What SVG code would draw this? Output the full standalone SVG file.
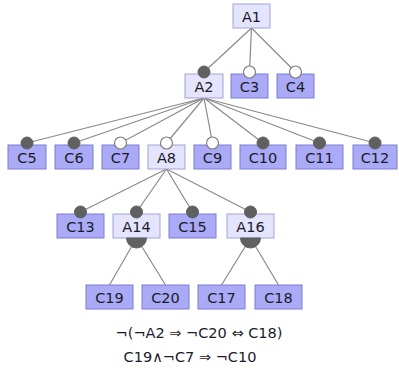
<svg xmlns="http://www.w3.org/2000/svg" width="399" height="370" viewBox="0 0 399 370">
<style>
.c{fill:#aaaaf6;stroke:#7c7cd4;stroke-width:1}
.a{fill:#e4e4fc;stroke:#a4a4d8;stroke-width:1}
.t{font-family:"DejaVu Sans",Verdana,sans-serif;font-size:14.5px;fill:#1a1a2a;text-anchor:middle}
.l{stroke:#8a8a8a;stroke-width:1.2;fill:none}
.m{fill:#606060;stroke:#606060;stroke-width:1}
.o{fill:#fff;stroke:#808080;stroke-width:1.2}
.f{font-family:"DejaVu Sans",Verdana,sans-serif;font-size:14.5px;fill:#1a1a2a;text-anchor:middle}
</style>
<rect width="399" height="370" fill="#fff"/>
<g id="connectors">
<line class="l" x1="251.5" y1="28" x2="204" y2="72"/>
<line class="l" x1="251.5" y1="28" x2="249.5" y2="72"/>
<line class="l" x1="251.5" y1="28" x2="295.5" y2="72"/>
<line class="l" x1="204" y1="98" x2="27" y2="143"/>
<line class="l" x1="204" y1="98" x2="74" y2="143"/>
<line class="l" x1="204" y1="98" x2="120.5" y2="143"/>
<line class="l" x1="204" y1="98" x2="166.5" y2="143"/>
<line class="l" x1="204" y1="98" x2="212.5" y2="143"/>
<line class="l" x1="204" y1="98" x2="263" y2="143"/>
<line class="l" x1="204" y1="98" x2="319.5" y2="143"/>
<line class="l" x1="204" y1="98" x2="375" y2="143"/>
<line class="l" x1="166.5" y1="169" x2="80.5" y2="212"/>
<line class="l" x1="166.5" y1="169" x2="136.5" y2="212"/>
<line class="l" x1="166.5" y1="169" x2="192.5" y2="212"/>
<line class="l" x1="166.5" y1="169" x2="250.5" y2="212"/>
<line class="l" x1="136.5" y1="238" x2="109.5" y2="285"/>
<line class="l" x1="136.5" y1="238" x2="165.5" y2="285"/>
<line class="l" x1="250.5" y1="238" x2="221.5" y2="285"/>
<line class="l" x1="250.5" y1="238" x2="278.5" y2="285"/>
</g>
<g id="A1"><rect class="a" x="233" y="4" width="37" height="24"/><text class="t" x="251.5" y="21.5">A1</text></g>
<g id="A2"><rect class="a" x="185" y="74" width="38" height="24"/><text class="t" x="204" y="91.5">A2</text><circle class="m" cx="204" cy="72" r="6"/></g>
<g id="C3"><rect class="c" x="231" y="74" width="37" height="24"/><text class="t" x="249.5" y="91.5">C3</text><circle class="o" cx="249.5" cy="72" r="6"/></g>
<g id="C4"><rect class="c" x="277" y="74" width="37" height="24"/><text class="t" x="295.5" y="91.5">C4</text><circle class="o" cx="295.5" cy="72" r="6"/></g>
<g id="C5"><rect class="c" x="8" y="145" width="38" height="24"/><text class="t" x="27" y="162.5">C5</text><circle class="m" cx="27" cy="143" r="6"/></g>
<g id="C6"><rect class="c" x="55" y="145" width="38" height="24"/><text class="t" x="74" y="162.5">C6</text><circle class="m" cx="74" cy="143" r="6"/></g>
<g id="C7"><rect class="c" x="102" y="145" width="37" height="24"/><text class="t" x="120.5" y="162.5">C7</text><circle class="o" cx="120.5" cy="143" r="6"/></g>
<g id="A8"><rect class="a" x="148" y="145" width="37" height="24"/><text class="t" x="166.5" y="162.5">A8</text><circle class="o" cx="166.5" cy="143" r="6"/></g>
<g id="C9"><rect class="c" x="194" y="145" width="37" height="24"/><text class="t" x="212.5" y="162.5">C9</text><circle class="o" cx="212.5" cy="143" r="6"/></g>
<g id="C10"><rect class="c" x="240" y="145" width="46" height="24"/><text class="t" x="263" y="162.5">C10</text><circle class="m" cx="263" cy="143" r="6"/></g>
<g id="C11"><rect class="c" x="296" y="145" width="47" height="24"/><text class="t" x="319.5" y="162.5">C11</text><circle class="m" cx="319.5" cy="143" r="6"/></g>
<g id="C12"><rect class="c" x="353" y="145" width="44" height="24"/><text class="t" x="375" y="162.5">C12</text><circle class="m" cx="375" cy="143" r="6"/></g>
<g id="C13"><rect class="c" x="57" y="214" width="47" height="24"/><text class="t" x="80.5" y="231.5">C13</text><circle class="m" cx="80.5" cy="212" r="6"/></g>
<g id="A14"><rect class="a" x="113" y="214" width="47" height="24"/><text class="t" x="136.5" y="231.5">A14</text><circle class="m" cx="136.5" cy="212" r="6"/><path class="m" d="M126.5 238 A10 10 0 0 0 146.5 238 Z"/></g>
<g id="C15"><rect class="c" x="169" y="214" width="47" height="24"/><text class="t" x="192.5" y="231.5">C15</text><circle class="m" cx="192.5" cy="212" r="6"/></g>
<g id="A16"><rect class="a" x="227" y="214" width="47" height="24"/><text class="t" x="250.5" y="231.5">A16</text><circle class="m" cx="250.5" cy="212" r="6"/><path class="m" d="M240.5 238 A10 10 0 0 0 260.5 238 Z"/></g>
<g id="C19"><rect class="c" x="86" y="285" width="47" height="24"/><text class="t" x="109.5" y="302.5">C19</text></g>
<g id="C20"><rect class="c" x="142" y="285" width="47" height="24"/><text class="t" x="165.5" y="302.5">C20</text></g>
<g id="C17"><rect class="c" x="198" y="285" width="47" height="24"/><text class="t" x="221.5" y="302.5">C17</text></g>
<g id="C18"><rect class="c" x="255" y="285" width="47" height="24"/><text class="t" x="278.5" y="302.5">C18</text></g>
<g id="constraints">
<text class="f" x="199" y="338">¬(¬A2 ⇒ ¬C20 ⇔ C18)</text>
<text class="f" x="190" y="362">C19∧¬C7 ⇒ ¬C10</text>
</g>
</svg>
